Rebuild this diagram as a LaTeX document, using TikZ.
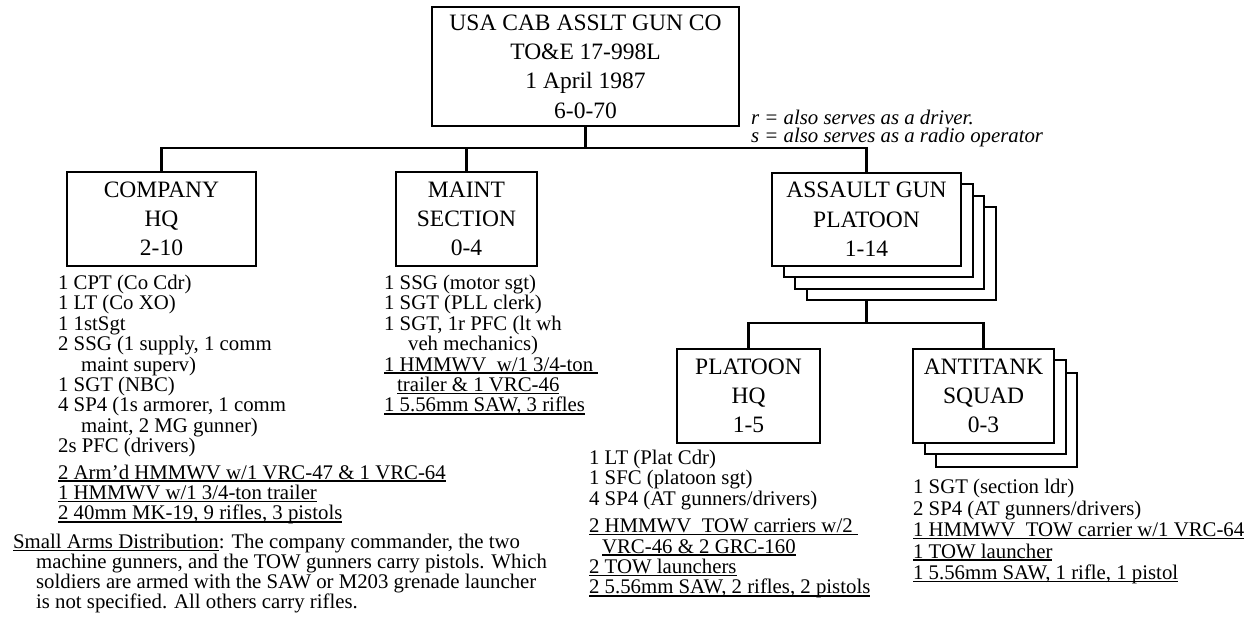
\documentclass[tikz,border=0pt]{standalone}
\usepackage{fontspec}
\setmainfont{Liberation Serif}
\usetikzlibrary{positioning,calc}
\newcommand\ulin[1]{\setbox0=\hbox{#1}\rlap{\rule[-2.6pt]{\wd0}{1.4pt}}\box0}

\begin{document}
\begin{tikzpicture}[x=1pt, y=-1pt, line width=2.2pt, unit/.style = {draw, fill=white, line width=2.2pt, inner sep=0pt, align=center, font=\fontsize{23.5}{29.3}\selectfont}, roster/.style = {anchor=north west, inner sep=0pt, align=left, font=\fontsize{20.8}{20.4}\selectfont}, remark/.style = {anchor=north west, inner sep=0pt, align=left, font=\fontsize{20.8}{18.5}\selectfont\itshape}]

\useasboundingbox (0,0) rectangle (1252,622);

\node[unit, minimum width=307, minimum height=119] (co) at (585.5,66.5) {USA CAB ASSLT GUN CO\\TO\&E 17-998L\\1 April 1987\\6-0-70};
\node[remark] (key) at (750,108.5) {r = also serves as a driver.\\s = also serves as a radio operator};

\node[unit, minimum width=189, minimum height=94] (cohq) at (161.5,219) {COMPANY\\HQ\\2-10};
\node[unit, minimum width=141, minimum height=94] (mnt) at (466.5,219) {MAINT\\SECTION\\0-4};
\node[unit, minimum width=189, minimum height=93] (agb3) at (901.5,253.5) {};
\node[unit, minimum width=189, minimum height=93] (agb2) at (889.5,242.5) {};
\node[unit, minimum width=189, minimum height=93] (agb1) at (878.5,230.5) {};
\node[unit, minimum width=189, minimum height=93] (ag) at (866.5,219.5) {ASSAULT GUN\\PLATOON\\1-14};

\coordinate (cbar) at (585.5,148);
\draw (co.south) -- (cbar);
\draw (cohq.north) |- (cbar) -| (ag.north);
\draw (mnt.north) -- (mnt.north |- cbar);

\begin{scope}[shift = {(0,177)}]
\node[unit, minimum width=143, minimum height=94] (pthq) at (748.5,219) {PLATOON\\HQ\\1-5};
\node[unit, minimum width=141, minimum height=94] (atb2) at (1006.5,243) {};
\node[unit, minimum width=141, minimum height=94] (atb1) at (995.5,230) {};
\node[unit, minimum width=141, minimum height=94] (atsq) at (983.5,219) {ANTITANK\\SQUAD\\0-3};
\coordinate (pbar) at (866.5,146);
\end{scope}

\draw (ag.south |- agb3.south) -- (pbar);
\draw (pthq.north) |- (pbar) -| (atsq.north);

% personnel and equipment
\node[roster] (cohqlist) at (57,274) {1 CPT (Co Cdr)\\1 LT (Co XO)\\1 1stSgt\\2 SSG (1 supply, 1 comm\\\hspace*{23pt}maint superv)\\1 SGT (NBC)\\4 SP4 (1s armorer, 1 comm\\\hspace*{23pt}maint, 2 MG gunner)\\2s PFC (drivers)\\[6pt]\ulin{2 Arm’d HMMWV w/1 VRC-47 \& 1 VRC-64}\\\ulin{1 HMMWV w/1 3/4-ton trailer}\\\ulin{2 40mm MK-19, 9 rifles, 3 pistols}};
\node[roster] (mntlist) at (383,274) {1 SSG (motor sgt)\\1 SGT (PLL clerk)\\1 SGT, 1r PFC (lt wh\\\hspace*{24pt}veh mechanics)\\\ulin{1 HMMWV\ \ w/1 3/4-ton\ }\\\hspace*{13pt}\ulin{trailer \& 1 VRC-46}\\\ulin{1 5.56mm SAW, 3 rifles}};
\node[roster] (pthqlist) at (588,449) {1 LT (Plat Cdr)\\1 SFC (platoon sgt)\\4 SP4 (AT gunners/drivers)\\[7pt]\ulin{2 HMMWV\ \ TOW carriers w/2\ }\\\hspace*{13pt}\ulin{VRC-46 \& 2 GRC-160}\\\ulin{2 TOW launchers}\\\ulin{2 5.56mm SAW, 2 rifles, 2 pistols}};
\node[roster, font=\fontsize{20.8}{21.5}\selectfont] (atsqlist) at (912,478) {1 SGT (section ldr)\\2 SP4 (AT gunners/drivers)\\\ulin{1 HMMWV\ \ TOW carrier w/1 VRC-64}\\\ulin{1 TOW launcher}\\\ulin{1 5.56mm SAW, 1 rifle, 1 pistol}};

\node[roster, font=\fontsize{20.8}{20}\selectfont] (arms) at (12,533) {\ulin{Small Arms Distribution}: The company commander, the two\\\hspace*{23pt}machine gunners, and the TOW gunners carry pistols. Which\\\hspace*{23pt}soldiers are armed with the SAW or M203 grenade launcher\\\hspace*{23pt}is not specified. All others carry rifles.};
\end{tikzpicture}
\end{document}
